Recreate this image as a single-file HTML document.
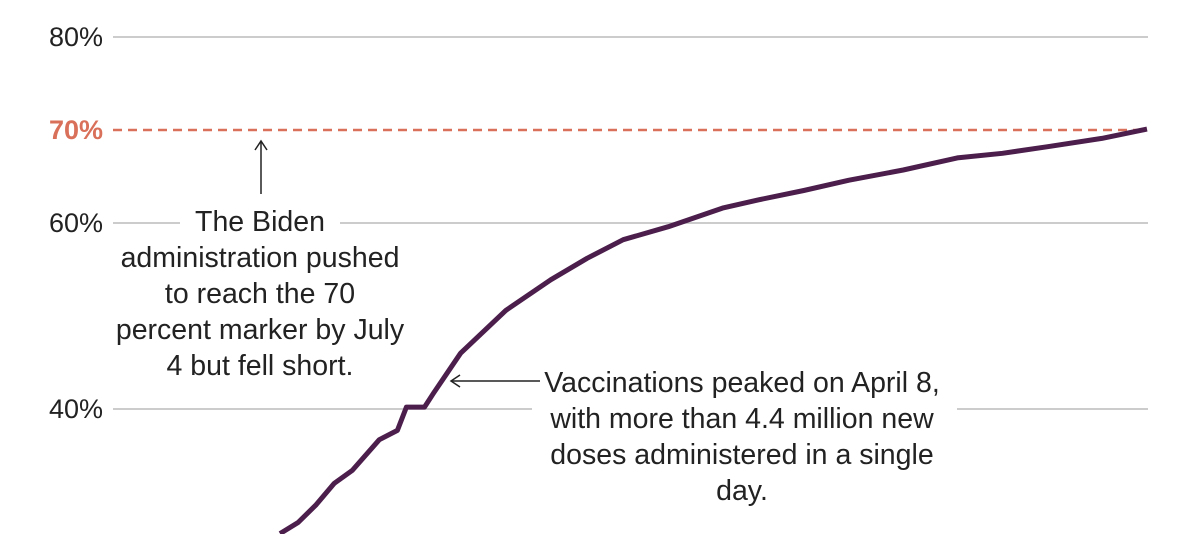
<!DOCTYPE html>
<html><head><meta charset="utf-8"><style>
html,body{margin:0;padding:0;background:#fff;}
svg{display:block;font-family:"Liberation Sans",Arial,sans-serif;}
</style></head><body>
<svg id="chart" width="1200" height="534" viewBox="0 0 1200 534">
<g id="grid"></g>
<g id="ylabels"></g>
<path id="series" fill="none" stroke="#4b1e4b" stroke-width="5" stroke-linejoin="round"/>
<g font-size="28.5" fill="#222" text-anchor="middle">
<line x1="261" y1="194" x2="261" y2="142" stroke="#222" stroke-width="1.5"/>
<path d="M255,150 L261,141 L267,150" fill="none" stroke="#222" stroke-width="1.5"/>
<text x="260" y="231">The Biden</text>
<text x="260" y="267">administration pushed</text>
<text x="260" y="303">to reach the 70</text>
<text x="260" y="339">percent marker by July</text>
<text x="260" y="375">4 but fell short.</text>
</g>
<g font-size="28.5" fill="#222" text-anchor="middle">
<line x1="452" y1="381" x2="540" y2="381" stroke="#222" stroke-width="1.5"/>
<path d="M460,375 L451,381 L460,387" fill="none" stroke="#222" stroke-width="1.5"/>
<text x="742" y="392">Vaccinations peaked on April 8,</text>
<text x="742" y="428">with more than 4.4 million new</text>
<text x="742" y="464">doses administered in a single</text>
<text x="742" y="500">day.</text>
</g>
</svg>
<script>
const days = [0,2,4,6,8,11,13,14,16,17,20,25,30,34,38,43,49,53,58,63,69,75,80,85,91,96];
const pcts = [26.6,27.8,29.7,32.0,33.4,36.7,37.7,40.2,40.2,41.7,46.0,50.6,53.9,56.2,58.2,59.6,61.6,62.5,63.5,64.6,65.7,67.0,67.5,68.2,69.1,70.1];
const tickValues = [80,70,60,40];
const tickLabels = ["80%","70%","60%","40%"];
const targetValue = 70;
const xs = d => 280 + (d/96)*867;
const ys = v => 37 + (80 - v)*9.3;
const NS = "http://www.w3.org/2000/svg";
const grid = document.getElementById('grid');
const yl = document.getElementById('ylabels');
const segs = {80:[[113,1148]],60:[[113,180],[340,1148]],40:[[113,532],[957,1148]]};
tickValues.forEach((v,i)=>{
  const y = ys(v);
  const t = document.createElementNS(NS,'text');
  
  
  t.setAttribute('x',103); t.setAttribute('y',y+9);
  t.setAttribute('text-anchor','end'); t.setAttribute('font-size','27');
  t.setAttribute('fill', v===targetValue ? '#d9705a' : '#222');
  if (v===targetValue) t.setAttribute('font-weight','bold');
  t.textContent = tickLabels[i];
  yl.appendChild(t);
  if (v===targetValue){
    const l = document.createElementNS(NS,'line');
    
    
    l.setAttribute('x1',113); l.setAttribute('x2',1142);
    l.setAttribute('y1',y); l.setAttribute('y2',y);
    l.setAttribute('stroke','#d9705a'); l.setAttribute('stroke-width','2.5');
    l.setAttribute('stroke-dasharray','9 6');
    grid.appendChild(l);
  } else {
    segs[v].forEach(s=>{
      const l = document.createElementNS(NS,'line');
      
      
      l.setAttribute('x1',s[0]); l.setAttribute('x2',s[1]);
      l.setAttribute('y1',y); l.setAttribute('y2',y);
      l.setAttribute('stroke','#bbb'); l.setAttribute('stroke-width','1.5');
      grid.appendChild(l);
    });
  }
});
document.getElementById('series').setAttribute('d', days.map((d,i)=>(i?'L':'M')+xs(d).toFixed(1)+','+ys(pcts[i]).toFixed(1)).join(' '));
</script>
</body></html>
